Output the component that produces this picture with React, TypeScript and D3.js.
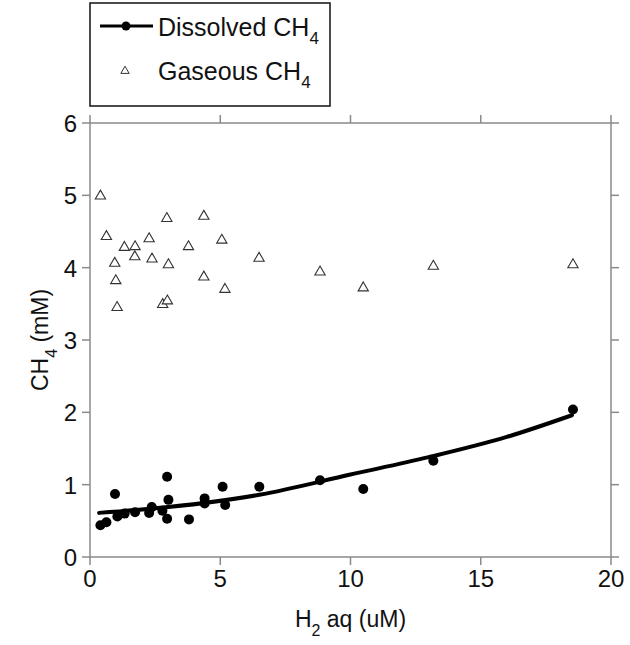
import React from "react";
import * as d3 from "d3";

const dissolvedX = [0.4, 0.63, 0.96, 1.05, 1.33, 1.73, 2.27, 2.37, 2.78, 2.96, 3.01, 2.96, 3.8, 4.4, 4.4, 5.09, 5.19, 6.5, 8.83, 10.49, 13.18, 18.54];
const dissolvedY = [0.44, 0.48, 0.87, 0.56, 0.6, 0.62, 0.61, 0.69, 0.64, 1.11, 0.79, 0.53, 0.52, 0.81, 0.74, 0.97, 0.72, 0.97, 1.06, 0.94, 1.33, 2.04];
const gaseousX = [0.4, 0.63, 1.32, 1.73, 1.72, 0.95, 0.99, 1.04, 2.27, 2.38, 2.95, 3.01, 2.79, 2.97, 3.78, 4.37, 4.37, 5.06, 5.18, 6.49, 8.83, 10.49, 13.18, 18.54];
const gaseousY = [4.99, 4.43, 4.28, 4.29, 4.15, 4.06, 3.82, 3.45, 4.4, 4.12, 4.68, 4.04, 3.49, 3.54, 4.29, 4.71, 3.87, 4.38, 3.7, 4.13, 3.94, 3.72, 4.02, 4.04];
const fitX = [0.35, 3, 6.5, 10, 13, 16, 18.5];
const fitY = [0.61, 0.69, 0.86, 1.14, 1.38, 1.66, 1.96];
const xTicks = [0, 5, 10, 15, 20];
const yTicks = [0, 1, 2, 3, 4, 5, 6];

const FONT = "Arial, 'Liberation Sans', sans-serif";
const AXIS = "#8a8a8a";

export default function App() {
  const left = 90, right = 611, top = 123, bottom = 557;
  const x = d3.scaleLinear().domain([0, 20]).range([left, right]);
  const y = d3.scaleLinear().domain([0, 6]).range([bottom, top]);
  const fit = fitX.map((v, i) => [v, fitY[i]] as [number, number]);
  const line = d3.line<[number, number]>().x(d => x(d[0])).y(d => y(d[1])).curve(d3.curveMonotoneX);
  const tri = d3.symbol().type(d3.symbolTriangle).size(46);
  const tk = 8;

  return (
    <svg width={630} height={645} style={{ position: "absolute", left: 0, top: 0, background: "#fff" }} fontFamily={FONT}>
      <rect x={left} y={top} width={right - left} height={bottom - top} fill="none" stroke={AXIS} strokeWidth={1.5} />
      {xTicks.map(t => (
        <g key={"xt" + t}>
          <line x1={x(t)} x2={x(t)} y1={bottom} y2={bottom + tk} stroke={AXIS} strokeWidth={1.5} />
          <line x1={x(t)} x2={x(t)} y1={top} y2={top - tk} stroke={AXIS} strokeWidth={1.5} />
          <text x={x(t)} y={bottom + 30} textAnchor="middle" fontSize={24} fill="#111">{t}</text>
        </g>
      ))}
      {yTicks.map(t => (
        <g key={"yt" + t}>
          <line x1={left} x2={left - tk} y1={y(t)} y2={y(t)} stroke={AXIS} strokeWidth={1.5} />
          <line x1={right} x2={right + tk} y1={y(t)} y2={y(t)} stroke={AXIS} strokeWidth={1.5} />
          <text x={left - 13} y={y(t) + 9} textAnchor="end" fontSize={24} fill="#111">{t}</text>
        </g>
      ))}
      <text x={x(10)} y={627} textAnchor="middle" fontSize={23} fill="#111">
        H<tspan fontSize={16} dy={9}>2</tspan><tspan dy={-9}> aq (uM)</tspan>
      </text>
      <text transform={`translate(48, ${(top + bottom) / 2}) rotate(-90)`} textAnchor="middle" fontSize={23} fill="#111">
        CH<tspan fontSize={16} dy={9}>4</tspan><tspan dy={-9}> (mM)</tspan>
      </text>
      <path d={line(fit) || ""} fill="none" stroke="#000" strokeWidth={4} strokeLinejoin="round" strokeLinecap="round" />
      {dissolvedX.map((v, i) => (
        <circle key={"d" + i} cx={x(v)} cy={y(dissolvedY[i])} r={5} fill="#000" />
      ))}
      {gaseousX.map((v, i) => (
        <path key={"g" + i} d={tri() || ""} transform={`translate(${x(v)},${y(gaseousY[i])})`} fill="#fff" stroke="#333" strokeWidth={1.1} />
      ))}
      <rect x={90} y={3} width={240} height={103} fill="#fff" stroke="#111" strokeWidth={1.5} />
      <line x1={100} x2={153} y1={26} y2={26} stroke="#000" strokeWidth={3} />
      <circle cx={126} cy={26} r={4.5} fill="#000" />
      <text x={158} y={36} fontSize={25} fill="#111">
        Dissolved CH<tspan fontSize={17} dy={8}>4</tspan>
      </text>
      <path d={d3.symbol().type(d3.symbolTriangle).size(30)() || ""} transform="translate(125,71)" fill="#fff" stroke="#333" strokeWidth={1} />
      <text x={158} y={80} fontSize={25} fill="#111">
        Gaseous CH<tspan fontSize={17} dy={8}>4</tspan>
      </text>
    </svg>
  );
}
